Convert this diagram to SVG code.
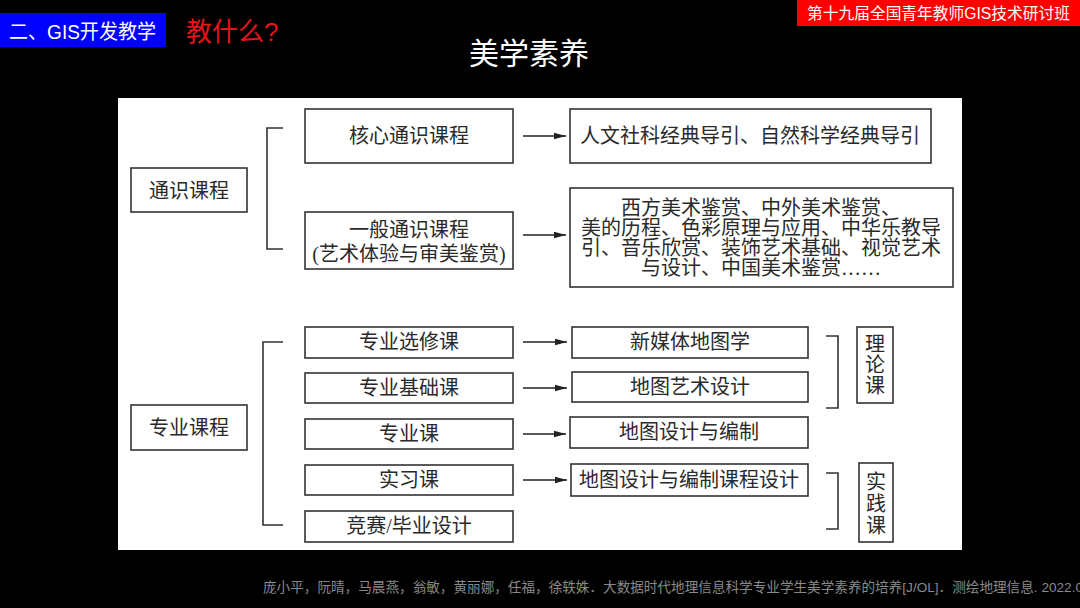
<svg xmlns="http://www.w3.org/2000/svg" width="1080" height="608" viewBox="0 0 1080 608">
<defs>
<style>
.cjk{font-family:"Liberation Sans","Noto Sans CJK SC",sans-serif}
.box{fill:#fff;stroke:#333;stroke-width:1.6}
.t{font-family:"Liberation Serif","Noto Sans CJK SC",serif;font-size:20px;fill:#2a2a2a;text-anchor:middle;dominant-baseline:central}
.br{fill:none;stroke:#333;stroke-width:1.6}
.ar{stroke:#222;stroke-width:1.6;fill:none;marker-end:url(#ah)}
</style>
<marker id="ah" viewBox="0 0 12 8" refX="12" refY="4" markerWidth="12" markerHeight="8" markerUnits="userSpaceOnUse" orient="auto">
<path d="M0,0.8 L12,4 L0,7.2 Z" fill="#222"/>
</marker>
</defs>
<rect width="1080" height="608" fill="#000"/>
<g id="header">
<rect x="0" y="13" width="166" height="34" fill="#0000ff"/>
<text x="9" y="32" class="cjk" font-size="20" fill="#fff" dominant-baseline="central" textLength="147" lengthAdjust="spacingAndGlyphs">二、GIS开发教学</text>
<text x="186" y="32" class="cjk" font-size="26" fill="#e3151a" dominant-baseline="central">教什么?</text>
<rect x="797" y="0" width="283" height="26" fill="#f00"/>
<text x="807" y="13" class="cjk" font-size="16" fill="#fff" dominant-baseline="central" textLength="263" lengthAdjust="spacingAndGlyphs">第十九届全国青年教师GIS技术研讨班</text>
<text x="529" y="53" class="cjk" font-size="30" fill="#fff" text-anchor="middle" dominant-baseline="central">美学素养</text>
</g>
<rect id="panel" x="118" y="98" width="844" height="452" fill="#fff"/>
<g id="connectors">
<path class="br" d="M283,128 H267 V249 H283"/>
<path class="br" d="M283,342 H263 V525 H283"/>
<path class="br" d="M826,336 H838 V408 H826"/>
<path class="br" d="M826,473 H838 V529 H826"/>
<line class="ar" x1="523" y1="136" x2="566" y2="136"/>
<line class="ar" x1="523" y1="235" x2="566" y2="235"/>
<line class="ar" x1="523" y1="342" x2="567" y2="342"/>
<line class="ar" x1="523" y1="388" x2="567" y2="388"/>
<line class="ar" x1="523" y1="434" x2="566" y2="434"/>
<line class="ar" x1="523" y1="480" x2="567" y2="480"/>
</g>
<g id="n-tongshi"><rect class="box" x="131" y="168" width="116" height="44"/><text class="t" x="189" y="191">通识课程</text></g>
<g id="n-hexin"><rect class="box" x="305" y="109" width="208" height="54"/><text class="t" x="409" y="136">核心通识课程</text></g>
<g id="n-yiban"><rect class="box" x="305" y="212" width="208" height="57"/><text class="t" x="409" y="230">一般通识课程</text><text class="t" x="409" y="254">(艺术体验与审美鉴赏)</text></g>
<g id="n-renwen"><rect class="box" x="570" y="109" width="361" height="54"/><text class="t" x="750" y="136">人文社科经典导引、自然科学经典导引</text></g>
<g id="n-xifang"><rect class="box" x="570" y="188" width="383" height="99"/>
<text class="t" x="761" y="208">西方美术鉴赏、中外美术鉴赏、</text>
<text class="t" x="761" y="228">美的历程、色彩原理与应用、中华乐教导</text>
<text class="t" x="761" y="248">引、音乐欣赏、装饰艺术基础、视觉艺术</text>
<text class="t" x="761" y="268">与设计、中国美术鉴赏……</text></g>
<g id="n-zhuanye"><rect class="box" x="131" y="405" width="116" height="45"/><text class="t" x="189" y="428">专业课程</text></g>
<g id="n-xuanxiu"><rect class="box" x="305" y="327" width="208" height="31"/><text class="t" x="409" y="342">专业选修课</text></g>
<g id="n-jichu"><rect class="box" x="305" y="373" width="208" height="30"/><text class="t" x="409" y="388">专业基础课</text></g>
<g id="n-zhuanyeke"><rect class="box" x="305" y="419" width="208" height="30"/><text class="t" x="409" y="434">专业课</text></g>
<g id="n-shixi"><rect class="box" x="305" y="465" width="208" height="30"/><text class="t" x="409" y="480">实习课</text></g>
<g id="n-jingsai"><rect class="box" x="305" y="511" width="208" height="31"/><text class="t" x="409" y="526">竞赛/毕业设计</text></g>
<g id="n-xinmeiti"><rect class="box" x="572" y="327" width="236" height="31"/><text class="t" x="690" y="342">新媒体地图学</text></g>
<g id="n-yishu"><rect class="box" x="572" y="372" width="236" height="30"/><text class="t" x="690" y="387">地图艺术设计</text></g>
<g id="n-bianzhi"><rect class="box" x="570" y="417" width="238" height="31"/><text class="t" x="689" y="432">地图设计与编制</text></g>
<g id="n-kecheng"><rect class="box" x="571" y="464" width="237" height="32"/><text class="t" x="689" y="480">地图设计与编制课程设计</text></g>
<g id="n-lilun"><rect class="box" x="857" y="327" width="36" height="76"/><text class="t" x="875" y="344">理</text><text class="t" x="875" y="365">论</text><text class="t" x="875" y="386">课</text></g>
<g id="n-shijian"><rect class="box" x="859" y="463" width="34" height="79"/><text class="t" x="876" y="482">实</text><text class="t" x="876" y="504">践</text><text class="t" x="876" y="526">课</text></g>
<text id="citation" x="263" y="592" class="cjk" font-size="13.2" fill="#8a8a8a" textLength="820" lengthAdjust="spacingAndGlyphs">庞小平，阮晴，马晨燕，翁敏，黄丽娜，任福，徐轶姝．大数据时代地理信息科学专业学生美学素养的培养[J/OL]．测绘地理信息. 2022.0</text>
</svg>
